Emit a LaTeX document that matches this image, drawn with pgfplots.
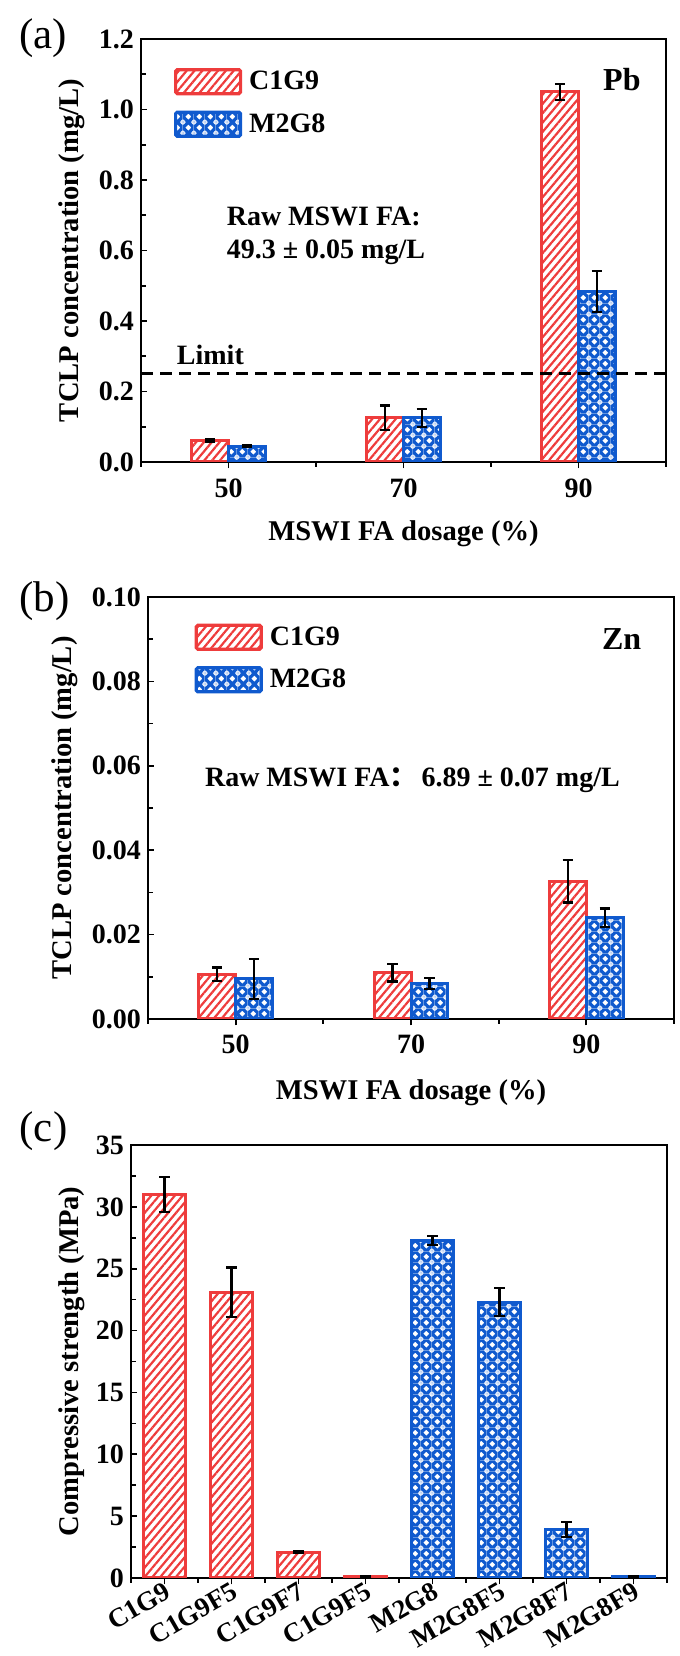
\documentclass[border=0pt]{standalone}
\usepackage{fontspec}
\setmainfont{Liberation Serif}
\newfontfamily\cjk{Noto Sans CJK SC}
\usepackage{pgfplots}
\pgfplotsset{compat=1.18}
\usetikzlibrary{patterns.meta}

\definecolor{myred}{RGB}{238,60,60}
\definecolor{myblue}{RGB}{16,90,206}

\tikzdeclarepattern{
  name=diamondgrid,
  type=uncolored,
  bounding box={(0,0) and (5.4pt,5.4pt)},
  tile size={(5.4pt,5.4pt)},
  code={
    \fill[even odd rule] (0,0) rectangle (5.4pt,5.4pt)
      (2.7pt,1.15pt) -- (4.25pt,2.7pt) -- (2.7pt,4.25pt) -- (1.15pt,2.7pt) -- cycle
      (0,0) -- (1.55pt,0) -- (0,1.55pt) -- cycle
      (5.4pt,0) -- (3.85pt,0) -- (5.4pt,1.55pt) -- cycle
      (0,5.4pt) -- (1.55pt,5.4pt) -- (0,3.85pt) -- cycle
      (5.4pt,5.4pt) -- (3.85pt,5.4pt) -- (5.4pt,3.85pt) -- cycle;
  }
}

\pgfplotsset{
  panel/.style={
    scale only axis,
    axis line style={line width=0.85pt, black},
    tick align=inside,
    tick pos=left,
    major tick length=3.2pt,
    minor tick length=2.4pt,
    every tick/.style={black, line width=0.85pt},
    major x tick style={yshift=-3.2pt},
    minor x tick style={yshift=-2.4pt},
    tick label style={font=\fontsize{14}{16}\selectfont\bfseries},
    every axis label/.append style={font=\fontsize{14.3}{16}\selectfont\bfseries},
    every axis y label/.style={rotate=90, anchor=center},
    every axis x label/.style={anchor=center},
    legend image code/.code={\draw[#1, line width=1.6pt, rounded corners=0.8pt] (0pt,-6pt) rectangle (32.5pt,6pt);},
    legend style={draw=none, fill=none, anchor=north west, inner sep=0pt, outer sep=0pt, row sep=6.5pt, column sep=1.5pt, font=\fontsize{14}{16}\selectfont\bfseries},
    legend cell align=left,
  },
  errstyle/.style={
    error bars/y dir=both, error bars/y explicit,
    error bars/error bar style={black, line width=1.1pt, solid},
    error bars/error mark options={rotate=90, black, line width=1.1pt, mark size=2.6pt, solid}},
  redbar/.style={ybar, bar shift=0pt, draw=myred, line width=1.5pt,
    pattern={Lines[angle=50,distance=3pt,line width=1.1pt]}, pattern color=myred, forget plot, errstyle},
  bluebar/.style={ybar, bar shift=0pt, draw=myblue, line width=1.5pt,
    pattern=diamondgrid, pattern color=myblue, forget plot, errstyle},
}

\begin{document}
\begin{tikzpicture}
\useasboundingbox (0,0) rectangle (340pt,828pt);

\node[font=\fontsize{21.5}{24}\selectfont] at (21.5pt,809pt) {(a)};
\node[font=\fontsize{21.5}{24}\selectfont] at (22.25pt,527.5pt) {(b)};
\node[font=\fontsize{21.5}{24}\selectfont] at (21.75pt,262.25pt) {(c)};

% ---------- (a) Pb ----------
\begin{axis}[panel,
  at={(70.5pt,597pt)}, anchor=south west,
  width=262.5pt, height=211.5pt,
  xmin=-0.5, xmax=2.5, ymin=0, ymax=1.2,
  xtick={0,1,2}, xticklabels={50,70,90},
  minor xtick={-0.5,0.5,1.5,2.5},
  ytick={0,0.2,0.4,0.6,0.8,1.0,1.2},
  yticklabels={0.0,0.2,0.4,0.6,0.8,1.0,1.2},
  minor ytick={0.1,0.3,0.5,0.7,0.9,1.1},
  xticklabel style={yshift=-5.1pt},
  xlabel={MSWI FA dosage (\%)},
  xlabel style={at={(axis description cs:0.5,-0.1702)}},
  ylabel={TCLP concentration (mg/L)},
  ylabel style={at={(axis description cs:-0.1324,0.5)}},
  legend style={at={(rel axis cs:0.0629,0.934)}},
]
\addlegendimage{draw=myred, pattern={Lines[angle=50,distance=3pt,line width=1.1pt]}, pattern color=myred}
\addlegendentry{C1G9}
\addlegendimage{draw=myblue, pattern=diamondgrid, pattern color=myblue}
\addlegendentry{M2G8}
\addplot[redbar, bar width=0.21] coordinates {
  (-0.105,0.060) +- (0,0.004)
  (0.895,0.125) +- (0,0.035)
  (1.895,1.050) +- (0,0.022)
};
\addplot[bluebar, bar width=0.21] coordinates {
  (0.105,0.045) +- (0,0.002)
  (1.105,0.125) +- (0,0.026)
  (2.105,0.483) +- (0,0.058)
};
\addplot[black, line width=1.4pt, dash pattern=on 6pt off 3.5pt, forget plot] coordinates {(-0.5,0.25) (2.5,0.25)};
\node[anchor=west, font=\fontsize{14}{16}\selectfont\bfseries] at (rel axis cs:0.055,0.253) {Limit};
\node[anchor=west, font=\fontsize{14}{16}\selectfont\bfseries] at (rel axis cs:0.150,0.5816) {Raw MSWI FA:};
\node[anchor=west, font=\fontsize{14}{16}\selectfont\bfseries] at (rel axis cs:0.150,0.4965) {49.3 ± 0.05 mg/L};
\node[font=\fontsize{16}{18}\selectfont\bfseries] at (rel axis cs:0.916,0.905) {Pb};
\end{axis}

% ---------- (b) Zn ----------
\begin{axis}[panel,
  at={(74pt,318.5pt)}, anchor=south west,
  width=263pt, height=211pt,
  xmin=-0.5, xmax=2.5, ymin=0, ymax=0.1,
  xtick={0,1,2}, xticklabels={50,70,90},
  minor xtick={-0.5,0.5,1.5,2.5},
  ytick={0,0.02,0.04,0.06,0.08,0.1},
  yticklabels={0.00,0.02,0.04,0.06,0.08,0.10},
  minor ytick={0.01,0.03,0.05,0.07,0.09},
  xticklabel style={yshift=-4.3pt},
  xlabel={MSWI FA dosage (\%)},
  xlabel style={at={(axis description cs:0.5,-0.1754)}},
  ylabel={TCLP concentration (mg/L)},
  ylabel style={at={(axis description cs:-0.159,0.5)}},
  legend style={at={(rel axis cs:0.0886,0.9396)}},
]
\addlegendimage{draw=myred, pattern={Lines[angle=50,distance=3pt,line width=1.1pt]}, pattern color=myred}
\addlegendentry{C1G9}
\addlegendimage{draw=myblue, pattern=diamondgrid, pattern color=myblue}
\addlegendentry{M2G8}
\addplot[redbar, bar width=0.21] coordinates {
  (-0.105,0.0106) +- (0,0.0016)
  (0.895,0.0110) +- (0,0.0021)
  (1.895,0.0326) +- (0,0.0050)
};
\addplot[bluebar, bar width=0.21] coordinates {
  (0.105,0.0095) +- (0,0.0047)
  (1.105,0.0084) +- (0,0.0013)
  (2.105,0.0240) +- (0,0.0022)
};
\node[anchor=west, font=\fontsize{14}{16}\selectfont\bfseries] at (rel axis cs:0.095,0.567) {Raw MSWI FA{\cjk ：}\hspace{2pt}6.89 ± 0.07 mg/L};
\node[font=\fontsize{16}{18}\selectfont\bfseries] at (rel axis cs:0.9006,0.9005) {Zn};
\end{axis}

% ---------- (c) compressive strength ----------
\begin{axis}[panel,
  at={(65.5pt,39pt)}, anchor=south west,
  width=268pt, height=216.5pt,
  xmin=-0.5, xmax=7.5, ymin=0, ymax=35,
  xtick={0,1,2,3,4,5,6,7},
  xticklabels={C1G9,C1G9F5,C1G9F7,C1G9F5,M2G8,M2G8F5,M2G8F7,M2G8F9},
  minor xtick={-0.5,0.5,1.5,2.5,3.5,4.5,5.5,6.5,7.5},
  ytick={0,5,10,15,20,25,30,35},
  yticklabels={0,5,10,15,20,25,30,35},
  minor ytick={2.5,7.5,12.5,17.5,22.5,27.5,32.5},
  xticklabel style={rotate=30, anchor=north east, inner sep=1pt, font=\fontsize{13.5}{15}\selectfont\bfseries},
  ylabel={Compressive strength (MPa)},
  ylabel style={at={(axis description cs:-0.110,0.5)}},
]
\addplot[redbar, bar width=0.64] coordinates {
  (0,31.0) +- (0,1.4)
  (1,23.1) +- (0,2.0)
  (2,2.1) +- (0,0.1)
  (3,0.1) +- (0,0.05)
};
\addplot[bluebar, bar width=0.64] coordinates {
  (4,27.3) +- (0,0.37)
  (5,22.3) +- (0,1.15)
  (6,3.9) +- (0,0.6)
  (7,0.1) +- (0,0.05)
};
\end{axis}
\end{tikzpicture}
\end{document}
